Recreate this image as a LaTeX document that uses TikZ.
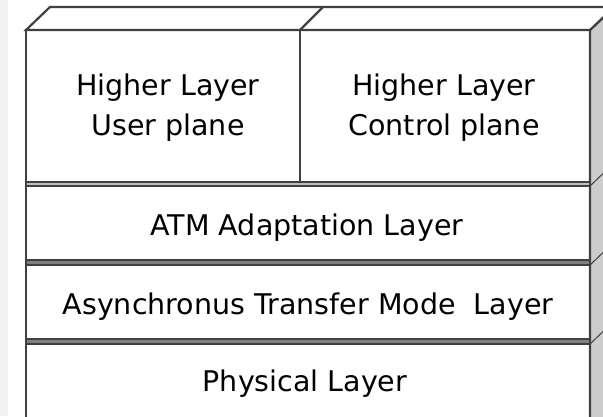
\documentclass[tikz,border=0pt]{standalone}
\usepackage{fontspec}
\setmainfont{DejaVu Sans}
\usetikzlibrary{positioning}

\definecolor{edgegray}{gray}{0.25}
\definecolor{sidegray}{gray}{0.80}
\definecolor{gapgray}{gray}{0.50}

\tikzset{
    lbl/.style={font=\fontsize{28.5}{40}\selectfont, inner sep=0pt, anchor=base, text=black},
    face/.style={line width=2.2pt, draw=edgegray, line join=miter},
    gapband/.style={line width=1.4pt, draw=edgegray, fill=gapgray}
}

\begin{document}
\begin{tikzpicture}[x=1pt,y=-1pt]
    \useasboundingbox (0,0) rectangle (603,416);
    \clip (0,0) rectangle (603,416);

    % Faded strip on the left edge
    \fill[black!5] (0,0) rectangle (8,416);

    % Side and top faces of the stack
    \filldraw[face, fill=sidegray] (590,30) -- (614,7) -- (614,430) -- (590,430) -- cycle;
    \filldraw[face, fill=white] (26,30) -- (50,7) -- (614,7) -- (590,30) -- cycle;
    \draw[face] (300,30) -- (323,7);

    % Higher layers (two planes)
    \draw[face] (26,30) rectangle (300,182);
    \draw[face] (300,30) rectangle (590,182);

    % Lower layers
    \draw[face] (26,186) rectangle (590,260);
    \draw[face] (26,265) rectangle (590,339);
    \draw[face] (26,344) rectangle (590,430);

    % Thin tops between the layers
    \filldraw[gapband, fill=black!25] (26,182) rectangle (590,186);
    \filldraw[gapband] (26,260) rectangle (590,265);
    \filldraw[gapband] (26,339) rectangle (590,344);
    \draw[line width=1pt, draw=edgegray] (590,186) -- (614,163);
    \draw[line width=1pt, draw=edgegray] (590,265) -- (614,242);
    \draw[line width=1pt, draw=edgegray] (590,344) -- (614,321);

    % Labels
    \node[lbl] (userA) at (168,95) {Higher Layer};
    \node[lbl] (userB) at (168,135) {User plane};
    \node[lbl] (ctrlA) at (444,95) {Higher Layer};
    \node[lbl] (ctrlB) at (444,135) {Control plane};
    \node[lbl] (aal) at (307,235) {ATM Adaptation Layer};
    \node[lbl] (atm) at (308,314) {Asynchronus Transfer Mode \ Layer};
    \node[lbl] (phy) at (305,391) {Physical Layer};
\end{tikzpicture}
\end{document}
